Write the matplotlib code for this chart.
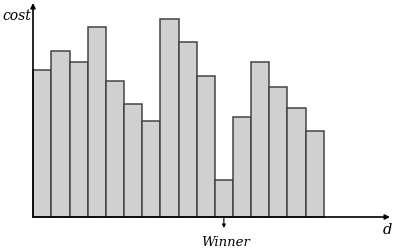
import matplotlib.pyplot as plt

# bar heights (pixels above the baseline)
costs = [147, 166, 155, 190, 136, 113, 96, 198, 175, 141, 37, 100, 155, 130, 109, 86]
winner = 10  # index of the lowest bar

bar_w = 18.15
x0 = 33.3

fig = plt.figure(figsize=(3.96, 2.5), dpi=100)
ax = fig.add_axes([0, 0, 1, 1])
ax.set_xlim(0, 396)
ax.set_ylim(-33, 217)
ax.axis("off")

xs = [x0 + bar_w * (i + 0.5) for i in range(len(costs))]
ax.bar(xs, costs, width=bar_w, color="#d0d0d0", edgecolor="#444444", linewidth=1.1, zorder=2)

# axes with arrow heads
ax.annotate("", xy=(33, 214), xytext=(33, 0),
            arrowprops=dict(arrowstyle="-|>", color="black", lw=1.2, mutation_scale=7, shrinkA=0, shrinkB=0), zorder=3)
ax.annotate("", xy=(390, 0), xytext=(33, 0),
            arrowprops=dict(arrowstyle="-|>", color="black", lw=1.2, mutation_scale=7, shrinkA=0, shrinkB=0), zorder=3)

# winner marker
ax.annotate("", xy=(xs[winner], -11), xytext=(xs[winner], 0),
            arrowprops=dict(arrowstyle="-|>", color="black", lw=0.8, mutation_scale=5, shrinkA=0, shrinkB=0))

font = dict(family="DejaVu Serif", style="italic", color="black")
ax.text(2, 201, "cost", fontsize=10, ha="left", va="center", **font)
ax.text(xs[winner] + 2, -25, "Winner", fontsize=9.5, ha="center", va="center", **font)
ax.text(387, -13, "d", fontsize=10.5, ha="center", va="center", **font)

fig.savefig("out.png", dpi=100)
